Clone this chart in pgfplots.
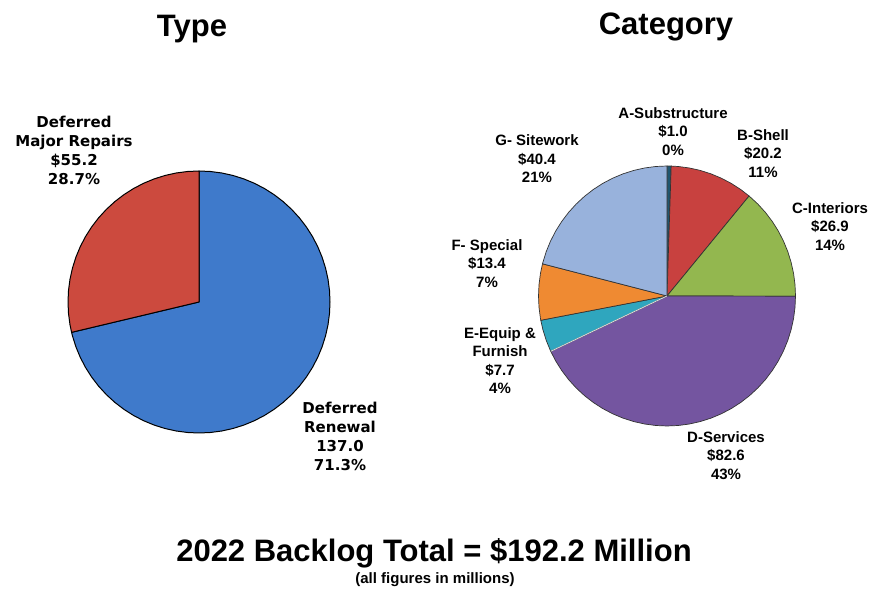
\documentclass[border=0pt]{standalone}
\usepackage{pgfplots}
\pgfplotsset{compat=1.18}
\usepackage{fontspec}
\setmainfont{Liberation Sans}
\newfontfamily\verd{DejaVu Sans}
\definecolor{tblue}{HTML}{3F7ACB}
\definecolor{tred}{HTML}{CC4A3E}
\definecolor{cA}{HTML}{1F5670}
\definecolor{cB}{HTML}{C8413F}
\definecolor{cC}{HTML}{93B74F}
\definecolor{cD}{HTML}{7455A0}
\definecolor{cE}{HTML}{2FA6BE}
\definecolor{cF}{HTML}{EF8A32}
\definecolor{cG}{HTML}{98B2DC}
\begin{document}
\begin{tikzpicture}[x=1pt,y=1pt]
\useasboundingbox (0,0) rectangle (877,591);
\pgfplotsset{pie/.style={scale only axis, xmin=-1, xmax=1, ymin=-1, ymax=1, hide axis, clip=false, anchor=center},
  wedge/.style={data cs=polar, draw=black!80, line width=0.7pt, line join=round}}
% Type pie: Deferred Renewal 137.0, Deferred Major Repairs 55.2
\begin{axis}[pie, at={(199pt,289pt)}, width=262pt, height=262pt]
\addplot[wedge, draw=black, line width=1pt, fill=tblue] coordinates {(0,0) (90,1) (85,1) (80,1) (75,1) (70,1) (65,1) (60,1) (55,1) (50,1) (45,1) (40,1) (35,1) (30,1) (25,1) (20,1) (15,1) (10,1) (5,1) (0,1) (-5,1) (-10,1) (-15,1) (-20,1) (-25,1) (-30,1) (-35,1) (-40,1) (-45,1) (-50,1) (-55,1) (-60,1) (-65,1) (-70,1) (-75,1) (-80,1) (-85,1) (-90,1) (-95,1) (-100,1) (-105,1) (-110,1) (-115,1) (-120,1) (-125,1) (-130,1) (-135,1) (-140,1) (-145,1) (-150,1) (-155,1) (-160,1) (-165,1) (-166.6,1)} -- cycle;
\addplot[wedge, draw=black, line width=1pt, fill=tred] coordinates {(0,0) (193.4,1) (190,1) (185,1) (180,1) (175,1) (170,1) (165,1) (160,1) (155,1) (150,1) (145,1) (140,1) (135,1) (130,1) (125,1) (120,1) (115,1) (110,1) (105,1) (100,1) (95,1) (90,1)} -- cycle;
\end{axis}
% Category pie: A 1.0, B 20.2, C 26.9, D 82.6, E 7.7, F 13.4, G 40.4 (total 192.2)
\begin{axis}[pie, at={(667pt,295pt)}, width=257pt, height=260pt]
\addplot[wedge, fill=cA] coordinates {(0,0) (90,1) (88.13,1)} -- cycle;
\addplot[wedge, fill=cB] coordinates {(0,0) (88.13,1) (85,1) (80,1) (75,1) (70,1) (65,1) (60,1) (55,1) (50.29,1)} -- cycle;
\addplot[wedge, fill=cC] coordinates {(0,0) (50.29,1) (45,1) (40,1) (35,1) (30,1) (25,1) (20,1) (15,1) (10,1) (5,1) (0,1) (-0.09,1)} -- cycle;
\addplot[wedge, fill=cD] coordinates {(0,0) (-0.09,1) (-5,1) (-10,1) (-15,1) (-20,1) (-25,1) (-30,1) (-35,1) (-40,1) (-45,1) (-50,1) (-55,1) (-60,1) (-65,1) (-70,1) (-75,1) (-80,1) (-85,1) (-90,1) (-95,1) (-100,1) (-105,1) (-110,1) (-115,1) (-120,1) (-125,1) (-130,1) (-135,1) (-140,1) (-145,1) (-150,1) (-154.81,1)} -- cycle;
\addplot[wedge, fill=cE] coordinates {(0,0) (-154.81,1) (-155,1) (-160,1) (-165,1) (-169.23,1)} -- cycle;
\addplot[wedge, fill=cF] coordinates {(0,0) (-169.23,1) (-170,1) (-175,1) (-180,1) (-185,1) (-190,1) (-194.33,1)} -- cycle;
\addplot[wedge, fill=cG] coordinates {(0,0) (-194.33,1) (-195,1) (-200,1) (-205,1) (-210,1) (-215,1) (-220,1) (-225,1) (-230,1) (-235,1) (-240,1) (-245,1) (-250,1) (-255,1) (-260,1) (-265,1) (-270,1)} -- cycle;
\addplot[data cs=polar, draw=white!85!black, line width=0.9pt] coordinates {(0,0) (-154.81,1)};
\end{axis}
% titles
\node[anchor=base, font=\fontsize{31}{36}\selectfont\bfseries] at (192,554) {Type};
\node[anchor=base, font=\fontsize{31}{36}\selectfont\bfseries] at (666,556) {Category};
\node[anchor=base, font=\fontsize{31}{36}\selectfont\bfseries] at (434,29) {2022 Backlog Total = \$192.2 Million};
\node[anchor=base, font=\fontsize{15}{17}\selectfont\bfseries] at (435,8) {(all figures in millions)};
% type labels
\tikzset{vl/.style={align=center, font=\verd\fontsize{15}{19}\selectfont\bfseries, inner sep=0pt},
         al/.style={align=center, font=\fontsize{15}{18.5}\selectfont\bfseries, inner sep=0pt}}
\node[vl] at (74,441) {Deferred\\Major Repairs\\\$55.2\\28.7\%};
\node[vl] at (340,155) {Deferred\\Renewal\\137.0\\71.3\%};
% category labels
\node[al] at (673,459.5) {A-Substructure\\\$1.0\\0\%};
\node[al] at (763,437.5) {B-Shell\\\$20.2\\11\%};
\node[al] at (830,364.5) {C-Interiors\\\$26.9\\14\%};
\node[al] at (726,135.5) {D-Services\\\$82.6\\43\%};
\node[al] at (500,230.5) {E-Equip \&\\Furnish\\\$7.7\\4\%};
\node[al] at (487,327.5) {F- Special\\\$13.4\\7\%};
\node[al] at (537,432) {G- Sitework\\\$40.4\\21\%};
\end{tikzpicture}
\end{document}
